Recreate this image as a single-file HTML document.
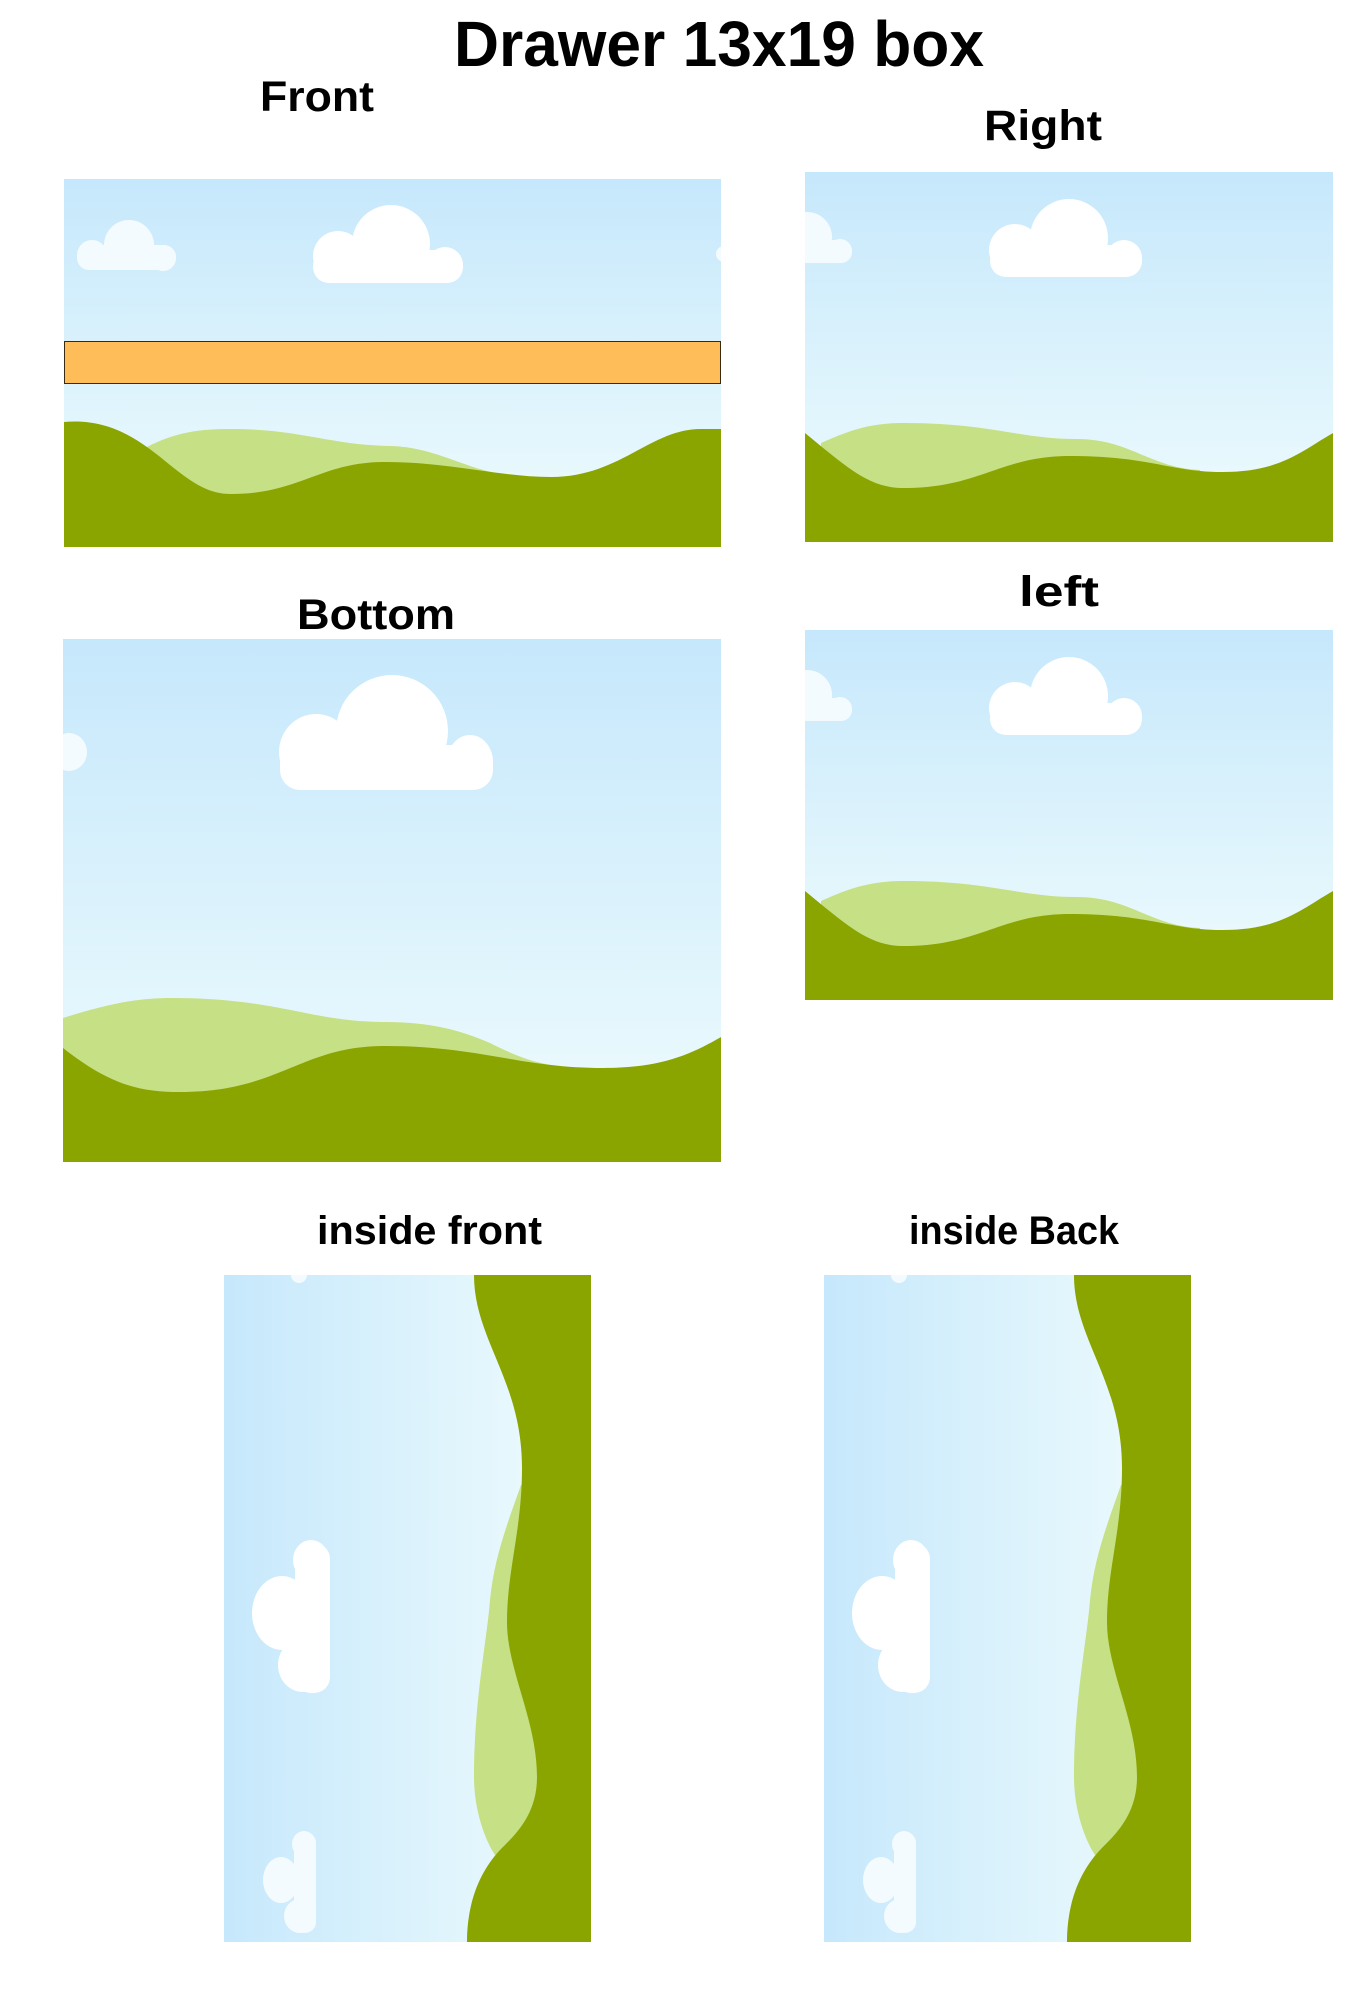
<!DOCTYPE html>
<html><head><meta charset="utf-8"><style>
html,body{margin:0;padding:0;background:#fff;}
svg{display:block;}
text{font-family:"Liberation Sans",sans-serif;font-weight:bold;fill:#000;}
</style></head><body>
<svg width="1368" height="1999" viewBox="0 0 1368 1999" xmlns="http://www.w3.org/2000/svg">
<defs>
<linearGradient id="skyV" x1="0" y1="0" x2="0" y2="1">
<stop offset="0" stop-color="#c6e8fc"/><stop offset="1" stop-color="#f0fcfd"/></linearGradient>
<linearGradient id="skyH" x1="0" y1="0" x2="1" y2="0">
<stop offset="0" stop-color="#c6e8fc"/><stop offset="1" stop-color="#f0fcfd"/></linearGradient>
<clipPath id="cF"><rect x="64" y="179" width="657" height="368"/></clipPath>
<clipPath id="cR"><rect x="805" y="172" width="528" height="370"/></clipPath>
<clipPath id="cB"><rect x="63" y="639" width="658" height="523"/></clipPath>
<clipPath id="cI"><rect x="224" y="1275" width="367" height="667"/></clipPath>
</defs>

<text x="454" y="66" font-size="64" textLength="530" lengthAdjust="spacingAndGlyphs">Drawer 13x19 box</text>
<text x="260" y="111" font-size="43" textLength="114" lengthAdjust="spacingAndGlyphs">Front</text>
<text x="984" y="140" font-size="43" textLength="118" lengthAdjust="spacingAndGlyphs">Right</text>
<text x="297" y="629" font-size="43" textLength="158" lengthAdjust="spacingAndGlyphs">Bottom</text>
<text x="1019" y="606" font-size="43" textLength="80" lengthAdjust="spacingAndGlyphs">left</text>
<text x="317" y="1244" font-size="40" textLength="225" lengthAdjust="spacingAndGlyphs">inside front</text>
<text x="909" y="1244" font-size="40" textLength="210" lengthAdjust="spacingAndGlyphs">inside Back</text>

<!-- Front -->
<g clip-path="url(#cF)">
<rect x="64" y="179" width="657" height="368" fill="url(#skyV)"/>
<g fill="#f4fbfe"><circle cx="129" cy="245" r="25"/><circle cx="92" cy="255" r="15"/><circle cx="163" cy="258" r="13"/><rect x="77" y="245" width="99" height="25" rx="12"/></g>
<g fill="#fff"><circle cx="391" cy="244" r="39"/><circle cx="338" cy="256" r="25"/><circle cx="445" cy="265" r="18"/><rect x="313" y="250" width="150" height="33" rx="16"/></g>
<circle cx="724" cy="254" r="8" fill="#f4fbfe"/>
<path d="M145,448 C175,432 200,429 231,429 C300,429 330,445 390,446 C440,447 470,474 520,476 L520,547 L145,547Z" fill="#c6e085"/>
<path d="M64,422 C110,418 140,440 170,465 C195,485 210,494 231,494 C300,494 320,462 385,462 C450,462 500,477 551,477 C620,477 650,429 701,429 L721,429 L721,547 L64,547Z" fill="#8aa400"/>
</g>
<rect x="64.5" y="341.5" width="656" height="42" fill="#ffbd5a" stroke="#3a2a10" stroke-width="1"/>

<!-- Right -->
<g id="rp" clip-path="url(#cR)">
<rect x="805" y="172" width="528" height="370" fill="url(#skyV)"/>
<g fill="#f4fbfe"><circle cx="807" cy="237" r="25"/><circle cx="840" cy="251" r="12"/><rect x="790" y="240" width="62" height="23" rx="11"/></g>
<g fill="#fff"><circle cx="1069" cy="238" r="39"/><circle cx="1015" cy="250" r="26"/><circle cx="1124" cy="258" r="18"/><rect x="990" y="245" width="152" height="32" rx="16"/></g>
<path d="M821,443 C850,430 870,423 904,423 C990,423 1020,439 1077,439 C1130,439 1150,468 1200,470 L1200,542 L821,542Z" fill="#c6e085"/>
<path d="M805,433 C850,470 870,488 904,488 C980,488 1000,456 1070,456 C1150,456 1170,472 1222,472 C1280,472 1300,452 1333,433 L1333,542 L805,542Z" fill="#8aa400"/>
</g>
<!-- Left -->
<use href="#rp" transform="translate(0,458)"/>

<!-- Bottom -->
<g clip-path="url(#cB)">
<rect x="63" y="639" width="658" height="523" fill="url(#skyV)"/>
<ellipse cx="69" cy="752" rx="18" ry="19" fill="#f4fbfe"/>
<g fill="#fff"><ellipse cx="392" cy="731" rx="56" ry="56"/><ellipse cx="316" cy="752" rx="37" ry="38"/><ellipse cx="470" cy="762" rx="23" ry="27"/><rect x="280" y="745" width="213" height="45" rx="20"/></g>
<path d="M63,1018 C110,1003 140,998 171,998 C280,998 310,1022 385,1022 C430,1022 460,1030 490,1043 C520,1058 540,1066 580,1068 L580,1162 L63,1162Z" fill="#c6e085"/>
<path d="M63,1048 C110,1085 140,1092 180,1092 C280,1092 300,1046 385,1046 C480,1046 520,1068 603,1068 C660,1068 690,1055 721,1037 L721,1162 L63,1162Z" fill="#8aa400"/>
</g>

<!-- Inside front -->
<g id="ip" clip-path="url(#cI)">
<rect x="224" y="1275" width="367" height="667" fill="url(#skyH)"/>
<circle cx="299" cy="1275" r="8" fill="#f4fbfe"/>
<g fill="#fff"><ellipse cx="282" cy="1613" rx="30" ry="37"/><ellipse cx="311" cy="1560" rx="18" ry="20"/><ellipse cx="303" cy="1665" rx="25" ry="27"/><rect x="295" y="1543" width="35" height="150" rx="16"/></g>
<g fill="#f4fbfe"><ellipse cx="281" cy="1880" rx="18" ry="23"/><ellipse cx="304" cy="1844" rx="12" ry="13"/><ellipse cx="300" cy="1916" rx="16" ry="17"/><rect x="294" y="1832" width="22" height="101" rx="11"/></g>
<path d="M521,1485 C505,1530 494,1560 490,1600 C487,1640 474,1700 474,1777 C474,1810 485,1840 495,1855 L591,1855 L591,1485Z" fill="#c6e085"/>
<path d="M474,1275 C474,1340 522,1380 522,1468 C522,1530 507,1570 507,1622 C507,1670 537,1720 537,1777 C537,1815 515,1835 500,1850 C485,1866 467,1895 467,1942 L591,1942 L591,1275Z" fill="#8aa400"/>
</g>
<!-- Inside back -->
<use href="#ip" transform="translate(600,0)"/>
</svg>
</body></html>
